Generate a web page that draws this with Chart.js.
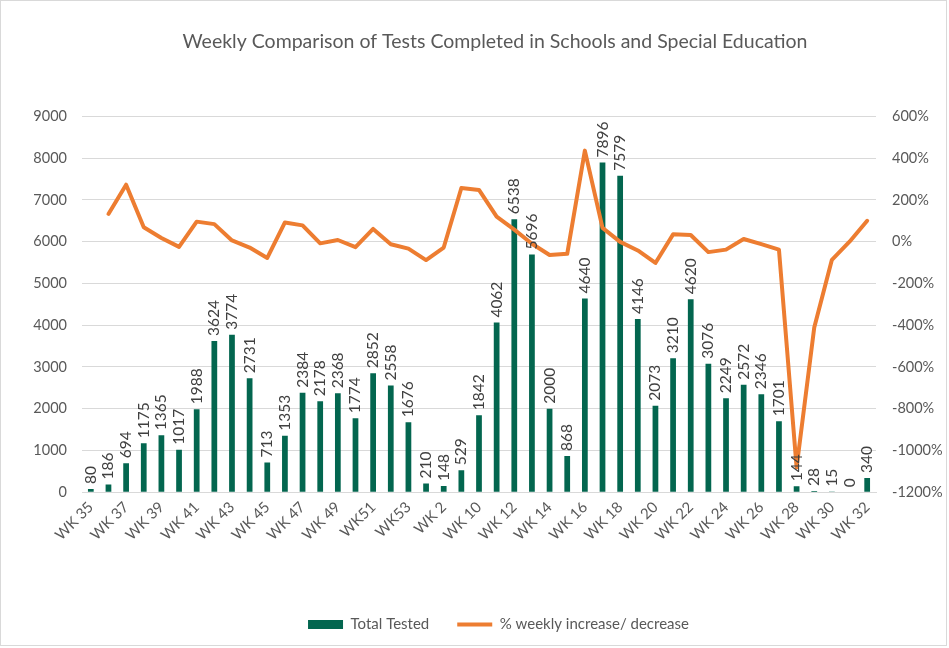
<!DOCTYPE html>
<html>
<head>
<meta charset="utf-8">
<script src="https://cdn.jsdelivr.net/npm/chart.js@4/dist/chart.umd.min.js"></script>
<style>
    body { margin: 0; background: #fff; }
    #wrap { width: 949px; height: 648px; }
</style>
</head>
<body>
<div id="wrap"><canvas id="myChart" width="949" height="648"></canvas></div>
<script>
'use strict';

const weeks = [
    'WK 35', 'WK 36', 'WK 37', 'WK 38', 'WK 39', 'WK 40', 'WK 41', 'WK 42', 'WK 43', 'WK 44',
    'WK 45', 'WK 46', 'WK 47', 'WK 48', 'WK 49', 'WK 50', 'WK51', 'WK52', 'WK53', 'WK 1',
    'WK 2', 'WK 9', 'WK 10', 'WK 11', 'WK 12', 'WK 13', 'WK 14', 'WK 15', 'WK 16', 'WK 17',
    'WK 18', 'WK 19', 'WK 20', 'WK 21', 'WK 22', 'WK 23', 'WK 24', 'WK 25', 'WK 26', 'WK 27',
    'WK 28', 'WK 29', 'WK 30', 'WK 31', 'WK 32',
];

const totalTested = [
    80, 186, 694, 1175, 1365, 1017, 1988, 3624, 3774, 2731,
    713, 1353, 2384, 2178, 2368, 1774, 2852, 2558, 1676, 210,
    148, 529, 1842, 4062, 6538, 5696, 2000, 868, 4640, 7896,
    7579, 4146, 2073, 3210, 4620, 3076, 2249, 2572, 2346, 1701,
    144, 28, 15, 0, 340,
];

// % weekly increase/decrease
const weeklyChange = [
    null, 133, 273, 69, 18, -25, 96, 84, 6, -28,
    -78, 92, 78, -8, 8, -26, 61, -12, -33, -88,
    -28, 257, 248, 120, 58, -10, -64, -58, 436, 66,
    -1, -42, -102, 35, 32, -50, -38, 13, -12, -38,
    -1081, -411, -87, 0, 100,
];

const leftTicks = { min: 0, max: 9000, step: 1000 };
const rightTicks = { min: -1200, max: 600, step: 200 };

const fontName = 'Lato, "Open Sans", sans-serif';
const grey = '#595959';
const gridColor = '#d9d9d9';

// value labels written upright above each bar
const barLabels = {
    id: 'barLabels',
    afterDatasetsDraw(chart) {
        let ctx = chart.ctx;
        let meta = chart.getDatasetMeta(0);
        ctx.save();
        ctx.font = '15.5px ' + fontName;
        ctx.fillStyle = '#404040';
        ctx.textAlign = 'left';
        ctx.textBaseline = 'middle';
        meta.data.forEach(function (bar, i) {
            ctx.save();
            ctx.translate(bar.x, bar.y - 5);
            ctx.rotate(-Math.PI / 2);
            ctx.fillText(String(totalTested[i]), 0, 0);
            ctx.restore();
        });
        ctx.restore();
    }
};

// white background with the light frame round the chart,
// title and legend nudged right like in the original
const frame = {
    id: 'frame',
    afterLayout(chart) {
        chart.titleBlock.left += 41;
        chart.legend.left += 24;
        chart.legend.right += 24;
    },
    beforeDraw(chart) {
        let ctx = chart.ctx;
        ctx.save();
        ctx.fillStyle = '#fff';
        ctx.fillRect(0, 0, chart.width, chart.height);
        ctx.strokeStyle = gridColor;
        ctx.lineWidth = 1;
        ctx.strokeRect(0.5, 0.5, chart.width - 3, chart.height - 3);
        ctx.restore();
    }
};

let ctx = document.getElementById('myChart').getContext('2d');
let myChart = new Chart(ctx, {
    type: 'bar',
    data: {
        labels: weeks,
        datasets: [
            {
                type: 'bar',
                label: 'Total Tested',
                data: totalTested,
                backgroundColor: '#03664f',
                borderWidth: 0,
                barPercentage: 0.65,
                categoryPercentage: 0.5,
                yAxisID: 'y',
                pointStyle: 'rect',
                order: 2,
            }, {
                type: 'line',
                label: '% weekly increase/ decrease',
                data: weeklyChange,
                borderColor: '#ed7d31',
                backgroundColor: '#ed7d31',
                borderWidth: 4,
                borderJoinStyle: 'round',
                borderCapStyle: 'round',
                tension: 0,
                pointRadius: 0,
                pointStyle: 'line',
                fill: false,
                yAxisID: 'y1',
                order: 1,
            }
        ]
    },
    options: {
        responsive: false,
        animation: false,
        layout: {
            padding: { top: 19, bottom: 6, left: 0, right: 0 }
        },
        plugins: {
            title: {
                display: true,
                text: 'Weekly Comparison of Tests Completed in Schools and Special Education',
                color: grey,
                font: { family: fontName, size: 19.5, weight: 'normal' },
                padding: { top: 11, bottom: 63 },
            },
            legend: {
                position: 'bottom',
                labels: {
                    usePointStyle: true,
                    pointStyleWidth: 35,
                    boxHeight: 9,
                    padding: 28,
                    color: grey,
                    font: { family: fontName, size: 15 },
                    sort: function (a, b) { return a.datasetIndex - b.datasetIndex; }
                }
            },
            tooltip: { enabled: false },
        },
        scales: {
            x: {
                grid: { display: false, drawTicks: false },
                border: { color: gridColor },
                ticks: {
                    autoSkip: false,
                    minRotation: 45,
                    maxRotation: 45,
                    padding: 6,
                    color: grey,
                    font: { family: fontName, size: 15 },
                    callback: function (value, index) {
                        return index % 2 === 0 ? weeks[index] : '';
                    }
                },
                afterFit: function (scale) { scale.height += 39; }
            },
            y: {
                position: 'left',
                min: leftTicks.min,
                max: leftTicks.max,
                grid: { color: gridColor, drawTicks: false },
                border: { display: false },
                ticks: {
                    stepSize: leftTicks.step,
                    padding: 15,
                    color: grey,
                    font: { family: fontName, size: 14.5 },
                    callback: function (value) { return String(value); }
                },
                afterFit: function (scale) { scale.width = 82; }
            },
            y1: {
                position: 'right',
                min: rightTicks.min,
                max: rightTicks.max,
                grid: { drawOnChartArea: false, drawTicks: false },
                border: { display: false },
                ticks: {
                    stepSize: rightTicks.step,
                    padding: 16,
                    color: grey,
                    font: { family: fontName, size: 14.5 },
                    callback: function (value) { return value + '%'; }
                },
                afterFit: function (scale) { scale.width = 73; }
            }
        }
    },
    plugins: [frame, barLabels]
});
</script>
</body>
</html>
